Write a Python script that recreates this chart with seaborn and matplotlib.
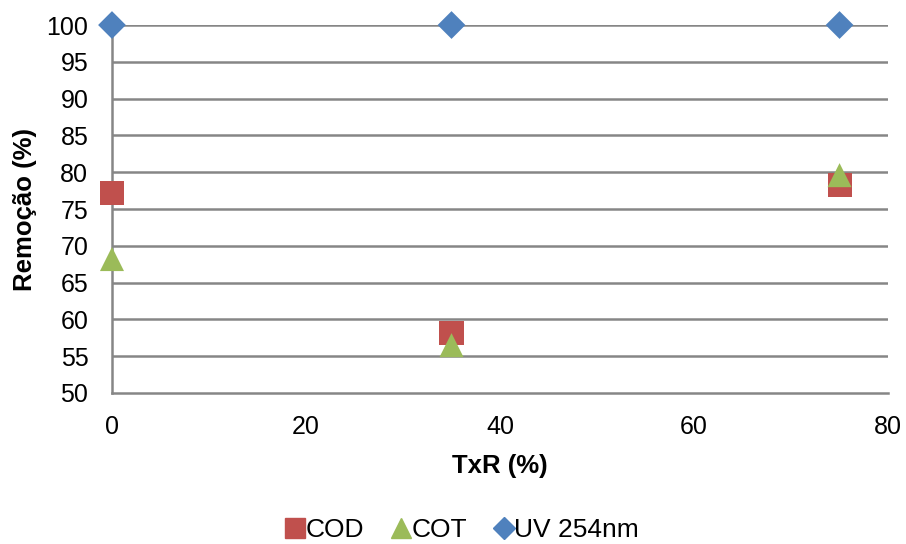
import matplotlib
matplotlib.use("Agg")
import matplotlib.pyplot as plt
import seaborn as sns
import pandas as pd
from matplotlib.lines import Line2D

txr = [0, 35, 75]
cod = [77.2, 58.2, 78.3]
cot = [68.2, 56.5, 79.6]
uv254 = [100, 100, 100]
series_names = ["COD", "COT", "UV 254nm"]
colors = ["#C0504D", "#9BBB59", "#4F81BD"]
markers = ["s", "^", "D"]
y_ticks = [50, 55, 60, 65, 70, 75, 80, 85, 90, 95, 100]
x_ticks = [0, 20, 40, 60, 80]

sns.set_theme(style="white")
plt.rcParams["font.family"] = ["Liberation Sans", "DejaVu Sans"]
plt.rcParams["text.color"] = "black"
plt.rcParams["axes.labelcolor"] = "black"

df = pd.DataFrame({
    "TxR": txr * 3,
    "val": cod + cot + uv254,
    "serie": [series_names[0]] * 3 + [series_names[1]] * 3 + [series_names[2]] * 3,
})

fig = plt.figure(figsize=(9.06, 5.44), dpi=100)
ax = fig.add_axes([0.1236, 0.2776, 0.8566, 0.6764])

for name, col, mk in zip(series_names, colors, markers):
    sub = df[df["serie"] == name]
    size = 300 if mk != "D" else 200
    sns.scatterplot(data=sub, x="TxR", y="val", color=col, marker=mk, s=size,
                    edgecolor="none", ax=ax, zorder=5, clip_on=False, legend=False)

ax.set_xlim(0, 80)
ax.set_ylim(50, 100)
ax.set_xticks(x_ticks)
ax.set_yticks(y_ticks)
ax.tick_params(axis="both", length=0, labelsize=18, colors="black")
ax.tick_params(axis="x", pad=16)
ax.tick_params(axis="y", pad=17)
for y in y_ticks[1:]:
    ax.axhline(y, color="#868686", lw=1.8, zorder=1)
for s in ["top", "right"]:
    ax.spines[s].set_visible(False)
for s in ["left", "bottom"]:
    ax.spines[s].set_color("#868686")
    ax.spines[s].set_linewidth(1.8)
ax.set_xlabel("TxR (%)", fontsize=18.5, fontweight="bold", labelpad=11, color="black")
ax.set_ylabel("Remoção (%)", fontsize=18.5, fontweight="bold", labelpad=7, color="black")

handles = [Line2D([], [], ls="none", marker=mk, color=c, markersize=ms)
           for mk, c, ms in zip(markers, colors, [14, 14, 11])]
fig.legend(handles, series_names, loc="lower center", bbox_to_anchor=(0.508, -0.035),
           ncol=3, frameon=False, fontsize=19, handletextpad=-0.1, columnspacing=0.9,
           handlelength=1.0, borderpad=0.3)

fig.savefig("out.png", dpi=100)
